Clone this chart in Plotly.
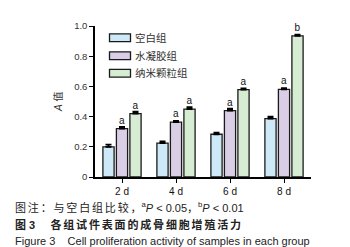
import plotly.graph_objects as go

categories = ["2 d", "4 d", "6 d", "8 d"]
series_names = ["空白组", "水凝胶组", "纳米颗粒组"]
blank_vals = [0.200, 0.225, 0.283, 0.387]
hydrogel_vals = [0.320, 0.363, 0.440, 0.580]
nano_vals = [0.420, 0.450, 0.578, 0.935]
blank_err = [0.014, 0.010, 0.010, 0.012]
hydrogel_err = [0.012, 0.008, 0.012, 0.008]
nano_err = [0.012, 0.012, 0.008, 0.008]
blank_sig = None
hydrogel_sig = ["a", "a", "a", "a"]
nano_sig = ["a", "a", "a", "b"]
ytick_vals = [0, 0.2, 0.4, 0.6, 0.8, 1.0]
ytick_text = ["0", "0.2", "0.4", "0.6", "0.8", "1.0"]

fills = ["#cde8f6", "#dacde6", "#d6ecd3"]
W, H = 350, 247
L, R, T, B = 87, 47, 14, 78
PW, PH = W - L - R, H - T - B

def px_x(x):
    return (x - L) / PW

def px_y(y):
    return (H - B - y) / PH

LAT = "Liberation Sans, Arial, sans-serif"
CJK = "Liberation Sans, Noto Sans CJK SC, sans-serif"

fig = go.Figure()
data = [(blank_vals, blank_err, blank_sig), (hydrogel_vals, hydrogel_err, hydrogel_sig), (nano_vals, nano_err, nano_sig)]
for name, (vals, err, sig), col in zip(series_names, data, fills):
    kw = {}
    if sig:
        kw = dict(text=sig, textposition="outside", constraintext="none",
                  outsidetextfont=dict(family=LAT, size=10, color="#111"))
    fig.add_trace(go.Bar(
        x=categories, y=vals, name=name,
        marker=dict(color=col, line=dict(color="#1a1a1a", width=1.3)),
        error_y=dict(type="data", symmetric=False, array=err, arrayminus=[0] * len(err),
                     color="#000", thickness=1.8, width=3),
        cliponaxis=False, showlegend=False, **kw,
    ))

fig.update_layout(
    width=W, height=H, margin=dict(l=L, r=R, t=T, b=B),
    paper_bgcolor="white", plot_bgcolor="white",
    barmode="group", bargap=0.25, bargroupgap=0.17,
    font=dict(family=LAT, size=10, color="#222"),
    xaxis=dict(range=[-0.5, 3.5], showline=True, linecolor="#000", linewidth=1.5,
               ticks="outside", ticklen=4, tickwidth=1.2, tickcolor="#000",
               tickfont=dict(family=LAT, size=10, color="#111"), showgrid=False, zeroline=False),
    yaxis=dict(range=[0, 1.0], showline=True, linecolor="#000", linewidth=1.5,
               tickvals=ytick_vals, ticktext=ytick_text,
               ticks="outside", ticklen=4, tickwidth=1.2, tickcolor="#000",
               tickfont=dict(family=LAT, size=9.5, color="#333"), showgrid=False, zeroline=False),
)

# Y axis title
fig.add_annotation(xref="paper", yref="paper", x=px_x(42), y=px_y(92), text="<i>A</i> 值",
                   showarrow=False, textangle=-90, font=dict(family=CJK, size=10, color="#333"))

# Legend
rows_y = [26, 44.5, 62.5]
for name, col, ry in zip(series_names, fills, rows_y):
    fig.add_shape(type="rect", xref="paper", yref="paper",
                  x0=px_x(101.5), x1=px_x(122.5), y0=px_y(ry + 4), y1=px_y(ry - 4),
                  fillcolor=col, line=dict(color="#1a1a1a", width=1.3))
    fig.add_annotation(xref="paper", yref="paper", x=px_x(125), y=px_y(ry), text=name,
                       xanchor="left", yanchor="middle", showarrow=False,
                       font=dict(family=CJK, size=10.5, color="#333"))

# Captions
s6 = "\u2006"
nb = "\u00a0"
cap1 = (s6.join("图注：与空白组比较，") +
        "<sup>a</sup><i>P</i> < 0.05，<sup>b</sup><i>P</i> < 0.01")
cap2 = "<b>图 3" + nb * 5 + s6.join("各组试件表面的成骨细胞增殖活力") + "</b>"
cap3 = "Figure 3" + nb * 4 + "Cell proliferation activity of samples in each group"
for txt, cy in zip([cap1, cap2, cap3], [200, 217.5, 235]):
    fig.add_annotation(xref="paper", yref="paper", x=px_x(5), y=px_y(cy), text=txt,
                       xanchor="left", yanchor="middle", showarrow=False,
                       font=dict(family=CJK, size=11, color="#222"))

fig.write_html("out.html")
